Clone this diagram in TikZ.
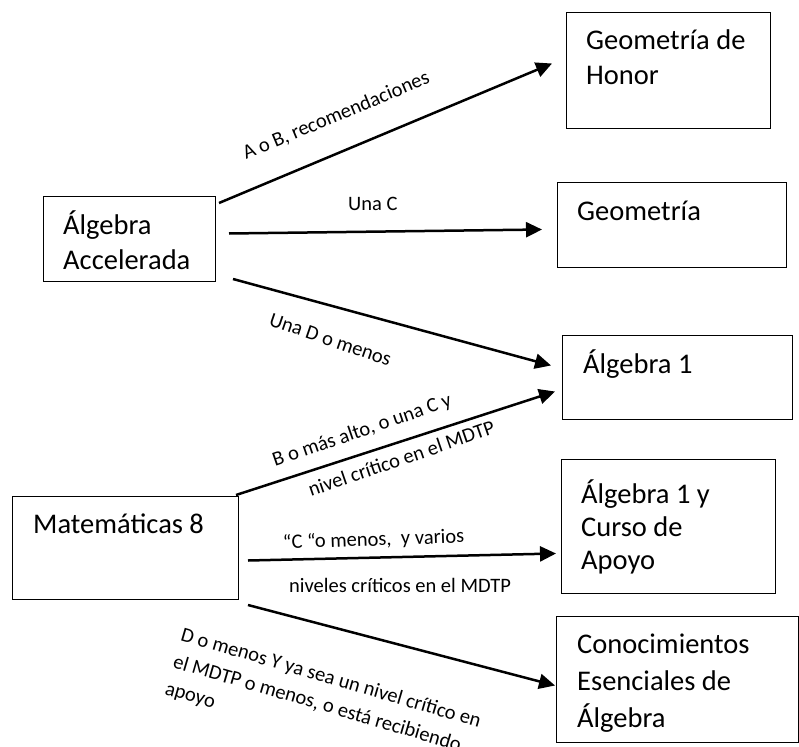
\documentclass[tikz,border=0pt]{standalone}
\usepackage{fontspec}
\setmainfont{Carlito}
\usetikzlibrary{arrows.meta}
\begin{document}
\begin{tikzpicture}[x=1pt,y=1pt]
\tikzstyle{every node}+=[inner sep=0pt]
\tikzstyle{course}=[draw=black, line width=1pt, anchor=north west]
\tikzstyle{coursetext}=[anchor=base west, xshift=20pt, yshift=-38pt, align=left, font=\fontsize{28.5}{35}\selectfont]
\tikzstyle{cond}=[anchor=base west, font=\fontsize{20.5}{28}\selectfont]
\tikzstyle{flow}=[black, line width=2.5pt, -{Triangle[length=16pt,width=15pt]}]
\useasboundingbox (0,0) rectangle (799,-746);
\node [course, minimum width=204, minimum height=116, label={[coursetext, yshift=-35pt]north west:Geometría de\\Honor}] (honor) at (566,-12) {};
\node [course, minimum width=229, minimum height=85, label={[coursetext]north west:Geometría}] (geom) at (557,-182) {};
\node [course, minimum width=230, minimum height=84, label={[coursetext, xshift=1pt]north west:Álgebra 1}] (alg1) at (562,-335) {};
\node [course, minimum width=214, minimum height=134, label={[coursetext, yshift=-72pt, font=\fontsize{28.5}{33}\selectfont]north west:Álgebra 1 y\\Curso de\\Apoyo}] (alg1y) at (561,-459) {};
\node [course, minimum width=242, minimum height=126, label={[coursetext, xshift=1pt, yshift=-73pt, font=\fontsize{28.5}{37}\selectfont]north west:Conocimientos\\Esenciales de\\Álgebra}] (cono) at (556,-616) {};
\node [course, minimum width=172, minimum height=85, label={[coursetext, yshift=-35pt]north west:Álgebra\\Accelerada}] (acel) at (43,-196) {};
\node [course, minimum width=226, minimum height=103, label={[coursetext, xshift=1pt, yshift=1pt]north west:Matemáticas 8}] (mat8) at (12,-496) {};
% from Algebra Accelerada
\draw [flow] ([shift={(3,-7)}]acel.north east) -- ([shift={(-14,7)}]honor.west);
\draw [flow] ([shift={(13,5.5)}]acel.east) -- ([shift={(-15,-4.5)}]geom.west);
\draw [flow] ([shift={(17,3)}]acel.south east) -- ([shift={(-11,12)}]alg1.west);
\draw (246,-160) node [cond, rotate=22.7] (recab) {A o B, recomendaciones};
\draw (348,-210) node [cond] (recc) {Una C};
\draw (268,-325) node [cond, rotate=-19] (recd) {Una D o menos};
% from Matematicas 8
\draw [flow] ([shift={(-3,1)}]mat8.north east) -- ([shift={(-7,-14)}]alg1.west);
\draw [flow] ([shift={(9,-12.5)}]mat8.east) -- ([shift={(-5,-27)}]alg1y.west);
\draw [flow] ([shift={(9,-5)}]mat8.south east) -- ([shift={(-1,-6)}]cono.west);
\draw (275,-467) node [cond, rotate=19] (critb) {B o más alto, o una C y};
\draw (311,-497) node [cond, rotate=19] (critbb) {nivel crítico en el MDTP};
\draw (283,-549) node [cond, rotate=2] (critc) {“C “o menos,\ \ y varios};
\draw (289,-592) node [cond] (critcc) {niveles críticos en el MDTP};
\draw (164,-694) node [cond, rotate=-16.3, align=left] (critd) {D o menos Y ya sea un nivel crítico en\\el MDTP o menos, o está recibiendo\\apoyo};
\end{tikzpicture}
\end{document}
